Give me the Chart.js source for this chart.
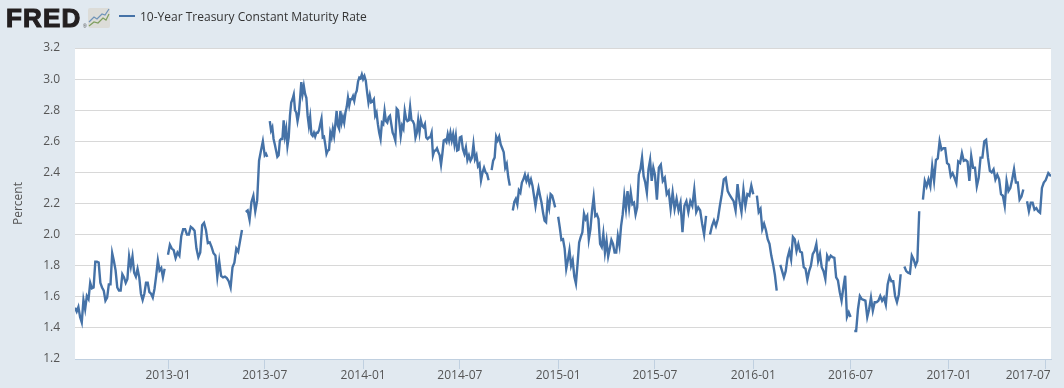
<!DOCTYPE html>
<html>
<head>
<meta charset="utf-8">
<title>10-Year Treasury Constant Maturity Rate</title>
<script src="https://cdn.jsdelivr.net/npm/chart.js@4"></script>
<style>
    html, body { margin: 0; padding: 0; background: #e1e9f0; overflow: hidden; }
    #wrap { position: relative; width: 1064px; height: 388px; font-family: "Open Sans", sans-serif; }
    #logo { position: absolute; left: 6px; top: 3px; font: bold 26px/30px "Liberation Sans", sans-serif; letter-spacing: 1.2px; color: #231f20; -webkit-text-stroke: 1.1px #231f20; }
    #reg { position: absolute; left: 83px; top: 23px; font: 5px/6px "Liberation Sans", sans-serif; color: #444; }
    #icon { position: absolute; left: 88px; top: 8px; }
    #legend { position: absolute; left: 119px; top: 8px; font-size: 12px; line-height: 18px; color: #333; white-space: nowrap; }
    #legend i { display: inline-block; width: 16px; height: 2px; background: #4572a7; vertical-align: 4px; margin-right: 5px; }
    canvas { display: block; }
</style>
</head>
<body>
<div id="wrap">
    <div id="logo">FRED</div>
    <div id="reg">®</div>
    <svg id="icon" width="22" height="20" viewBox="0 0 22 20">
        <rect width="22" height="20" rx="2" fill="#dcdcd8"/>
        <polyline points="1,14 6,9 9,11 14,6 17,7 21,1" fill="none" stroke="#6f93b8" stroke-width="1.2"/>
        <polyline points="1,18 6,14 10,15 15,10 18,12 21,6" fill="none" stroke="#7f9f5f" stroke-width="1.2"/>
    </svg>
    <div id="legend"><i></i>10-Year Treasury Constant Maturity Rate</div>
    <canvas id="myChart" width="1064" height="388"></canvas>
</div>
<script>
const seriesName = '10-Year Treasury Constant Maturity Rate';
const axisTitle = 'Percent';
const tickDates = ['2013-01', '2013-07', '2014-01', '2014-07', '2015-01', '2015-07', '2016-01', '2016-07', '2017-01', '2017-07'];
const yMin = 1.2, yMax = 3.2, yStep = 0.2;
const firstDate = '2012-07-11', lastDate = '2017-07-11';

const periods = ['2012-07-11', '2013-01-01', '2013-07-01', '2014-01-01', '2014-07-01', '2015-01-01', '2015-07-01', '2016-01-01', '2016-07-01', '2017-01-01', '2017-07-01', '2017-07-16'];

const rates2012b = [1.53, 1.505, 1.535, 1.47, 1.435, 1.58, 1.52, 1.605, 1.585, 1.69, 1.655, 1.66, 1.825, 1.825, 1.82, 1.69, 1.66, 1.64, 1.575, 1.595, 1.68, 1.68, 1.88, 1.83, 1.77, 1.66, 1.64, 1.64, 1.745, 1.725, 1.69, 1.715, 1.86, 1.795, 1.86, 1.755, 1.73, 1.78, 1.725, 1.62, 1.58, 1.62, 1.69, 1.69, 1.63, 1.62, 1.595, 1.65, 1.735, 1.835, 1.77, 1.785, 1.725, 1.78, null];
const rates2013a = [1.87, 1.935, 1.91, 1.90, 1.85, 1.885, 1.865, 1.99, 2.035, 2.035, 2.0, 2.0, 2.05, 2.04, 2.025, 1.91, 1.855, 1.885, 2.06, 2.075, 2.03, 1.945, 1.95, 1.92, 1.88, 1.865, 1.73, 1.83, 1.735, 1.725, 1.73, 1.72, 1.70, 1.66, 1.79, 1.82, 1.91, 1.89, 1.96, 2.03, null, 2.145, 2.155, 2.095, 2.21, 2.25, 2.15, 2.22, 2.475, 2.54, 2.6];
const rates2013b = [2.51, 2.52, 2.50, null, 2.73, 2.67, 2.69, 2.615, 2.58, 2.54, 2.50, 2.51, 2.605, 2.615, 2.615, 2.735, 2.635, 2.68, 2.57, 2.625, 2.765, 2.85, 2.87, 2.90, 2.80, 2.785, 2.73, 2.775, 2.87, 2.98, 2.905, 2.955, 2.905, 2.88, 2.765, 2.70, 2.755, 2.645, 2.635, 2.655, 2.63, 2.655, 2.655, 2.67, 2.71, 2.745, 2.625, 2.63, 2.58, 2.52, 2.54, 2.545, 2.655, 2.625, 2.68, 2.635, 2.71, 2.795, 2.70, 2.68, 2.795, 2.72, 2.755, 2.72, 2.785, 2.82, 2.88, 2.83, 2.87, 2.87, 2.89, 2.86, 2.905, 2.925, 2.985, 3.01, 3.005, 3.03];
const rates2014a = [3.0, 3.02, 2.99, 2.915, 2.85, 2.895, 2.85, 2.855, 2.87, 2.765, 2.785, 2.71, 2.655, 2.615, 2.72, 2.71, 2.795, 2.73, 2.72, 2.755, 2.765, 2.71, 2.655, 2.635, 2.605, 2.81, 2.80, 2.72, 2.635, 2.70, 2.68, 2.795, 2.745, 2.73, 2.735, 2.82, 2.735, 2.73, 2.71, 2.625, 2.655, 2.735, 2.66, 2.735, 2.70, 2.69, 2.71, 2.625, 2.615, 2.625, 2.625, 2.655, 2.51, 2.54, 2.54, 2.555, 2.53, 2.51, 2.45, 2.52, 2.605, 2.61, 2.595, 2.645, 2.605, 2.655, 2.605, 2.645, 2.58, 2.635, 2.54, 2.545];
const rates2014b = [2.625, 2.63, 2.55, 2.52, 2.56, 2.48, 2.51, 2.475, 2.495, 2.58, 2.485, 2.51, 2.44, 2.455, 2.35, 2.40, 2.43, 2.40, 2.39, 2.35, null, 2.415, 2.475, 2.495, 2.63, 2.605, 2.63, 2.58, 2.555, 2.53, 2.43, 2.455, 2.37, 2.315, null, 2.155, 2.21, 2.23, 2.195, 2.285, 2.27, 2.335, 2.355, 2.385, 2.345, 2.375, 2.325, 2.355, 2.315, 2.25, 2.185, 2.25, 2.30, 2.25, 2.205, 2.14, 2.09, 2.08, 2.215, 2.17, 2.26, 2.25, 2.215, 2.175, null];
const rates2015a = [2.115, 2.045, 1.965, 1.97, 1.91, 1.78, 1.835, 1.90, 1.80, 1.835, 1.73, 1.685, 1.81, 1.95, 1.985, 2.015, 2.135, 2.10, 2.12, 1.97, 2.035, 2.155, 2.24, 2.12, 2.13, 2.10, 1.94, 1.92, 2.005, 1.885, 1.96, 1.86, 1.91, 1.965, 1.94, 1.885, 1.885, 1.99, 1.93, 2.055, 2.13, 2.25, 2.165, 2.28, 2.175, 2.27, 2.195, 2.205, 2.13, 2.175, 2.385, 2.42, 2.495, 2.375, 2.335, 2.27, 2.42, 2.48, 2.345, 2.43];
const rates2015b = [2.385, 2.225, 2.43, 2.45, 2.345, 2.365, 2.26, 2.28, 2.165, 2.27, 2.165, 2.23, 2.155, 2.205, 2.015, 2.185, 2.215, 2.145, 2.215, 2.185, 2.29, 2.145, 2.175, 2.155, 2.07, 2.0, 2.12, null, 2.0, 2.055, 2.09, 2.055, 2.10, 2.185, 2.26, 2.355, 2.365, 2.28, 2.255, 2.235, 2.215, 2.155, 2.325, 2.215, 2.145, 2.29, 2.185, 2.26, 2.25, 2.315];
const rates2016a = [2.26, null, 2.25, 2.145, 2.165, 2.035, 2.07, 2.03, 1.97, 1.94, 1.865, 1.81, 1.74, 1.64, null, 1.805, 1.765, 1.725, 1.765, 1.85, 1.895, 1.84, 1.985, 1.97, 1.895, 1.94, 1.89, 1.885, 1.79, 1.78, 1.71, 1.765, 1.80, 1.875, 1.895, 1.94, 1.83, 1.875, 1.79, 1.765, 1.715, 1.865, 1.84, 1.865, 1.855, 1.85, 1.725, 1.705, 1.63, 1.575, 1.66, 1.735, 1.47, 1.50];
const rates2016b = [1.47, null, 1.38, 1.38, 1.52, 1.605, 1.585, 1.58, 1.575, 1.47, 1.52, 1.595, 1.51, 1.565, 1.565, 1.575, 1.605, 1.575, 1.595, 1.55, 1.68, 1.73, 1.70, 1.70, 1.605, 1.565, 1.615, 1.745, null, 1.795, 1.765, 1.755, 1.75, 1.865, 1.84, 1.80, 1.83, 2.15, null, 2.225, 2.345, 2.31, 2.355, 2.31, 2.44, 2.345, 2.48, 2.49, 2.60, 2.545, 2.555, 2.555, 2.46];
const rates2017a = [2.45, 2.375, 2.395, 2.365, 2.33, 2.47, 2.46, 2.525, 2.475, 2.48, 2.47, 2.345, 2.505, 2.43, 2.43, 2.31, 2.365, 2.495, 2.495, 2.60, 2.61, 2.495, 2.41, 2.40, 2.42, 2.355, 2.385, 2.355, 2.26, 2.25, 2.185, 2.345, 2.28, 2.30, 2.355, 2.42, 2.335, 2.335, 2.225, 2.245, 2.29, null, 2.215, 2.15, 2.205, 2.205, 2.16, 2.17, 2.15, 2.14, 2.30, 2.335];
const rates2017b = [2.35, 2.395, 2.375];

const rateBlocks = [rates2012b, rates2013a, rates2013b, rates2014a, rates2014b, rates2015a, rates2015b, rates2016a, rates2016b, rates2017a, rates2017b];

const toDay = d => Date.parse(d + (d.length === 7 ? '-01' : '')) / 864e5;

const points = [];
rateBlocks.forEach((vals, b) => {
    const start = toDay(periods[b]), end = toDay(periods[b + 1]);
    vals.forEach((v, i) => points.push({ x: start + (end - start) * i / vals.length, y: v }));
});

const tickFont = { family: '"Open Sans", sans-serif', size: 12 };
const textColor = '#555';

// white plot area, and the last date label pulled back inside the page
const plotBackground = {
    id: 'plotBackground',
    beforeDraw(chart) {
        const a = chart.chartArea;
        chart.ctx.fillStyle = '#fff';
        chart.ctx.fillRect(a.left, a.top, a.width, a.height);
        const items = chart.scales.x.getLabelItems();
        const last = items[items.length - 1];
        last.options.textAlign = 'right';
        last.options.translation[0] = chart.scales.x.getPixelForValue(toDay(tickDates[tickDates.length - 1])) + 5;
    }
};

new Chart(document.getElementById('myChart'), {
    type: 'line',
    data: {
        datasets: [{
            label: seriesName,
            data: points,
            borderColor: '#4572a7',
            borderWidth: 2.4,
            pointRadius: 0,
            tension: 0,
            spanGaps: false
        }]
    },
    options: {
        responsive: false,
        animation: false,
        layout: { padding: { top: 48, right: 13, left: 0, bottom: 0 } },
        plugins: { legend: { display: false }, tooltip: { enabled: false } },
        scales: {
            x: {
                type: 'linear',
                min: toDay(firstDate),
                max: toDay(lastDate),
                afterBuildTicks: scale => { scale.ticks = tickDates.map(d => ({ value: toDay(d) })); },
                afterFit: scale => {
                    scale.height = 29;
                    scale.paddingLeft = 0;
                    scale.paddingRight = 0;
                },
                border: { color: '#c0d0e0' },
                grid: { drawOnChartArea: false, drawTicks: true, tickLength: 10, tickColor: '#c0d0e0' },
                ticks: {
                    autoSkip: false,
                    maxRotation: 0,
                    padding: -1,
                    color: textColor,
                    font: tickFont,
                    callback: value => tickDates.find(d => toDay(d) === value)
                }
            },
            y: {
                min: yMin,
                max: yMax,
                afterFit: scale => { scale.width = 75; },
                border: { display: false },
                grid: { color: '#d8d8d8', drawTicks: false },
                ticks: {
                    stepSize: yStep,
                    padding: 15,
                    color: textColor,
                    font: tickFont,
                    callback: value => value.toFixed(1)
                },
                title: {
                    display: true,
                    text: axisTitle,
                    color: textColor,
                    font: tickFont,
                    padding: { top: 11, bottom: 0 }
                }
            }
        }
    },
    plugins: [plotBackground]
});
</script>
</body>
</html>
